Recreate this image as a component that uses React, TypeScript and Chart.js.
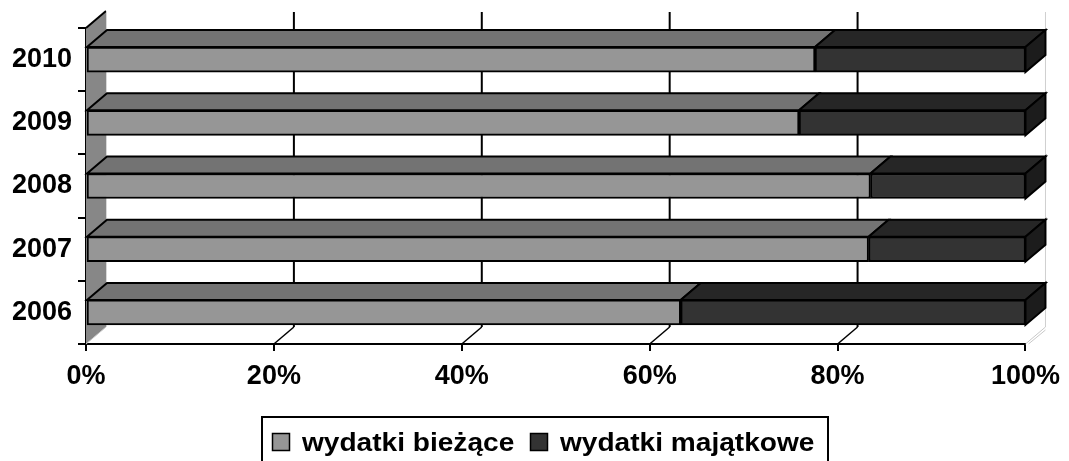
import React, { useEffect, useRef } from "react";
import { Chart, registerables } from "chart.js";

Chart.register(...registerables);

const years = ["2010", "2009", "2008", "2007", "2006"];
const biezace = [77.6, 75.9, 83.5, 83.3, 63.3];
const majatkowe = [22.4, 24.1, 16.5, 16.7, 36.7];
const seriesNames = ["wydatki bieżące", "wydatki majątkowe"];
const xTicks = [0, 20, 40, 60, 80, 100];

const FRONT = ["#969696", "#333333"];
const TOP = ["#737373", "#262626"];
const SIDE = "#1c1c1c";
const WALL = "#878787";
const DX = 20;
const DY = -17;
const FONT = "'Liberation Sans', Arial, sans-serif";

const depthPlugin = {
  id: "depth3d",
  beforeDatasetsDraw(chart: any) {
    const { ctx, chartArea, scales } = chart;
    const x = scales.x;
    const { left, top, bottom } = chartArea;
    ctx.save();
    ctx.beginPath();
    ctx.moveTo(left, top);
    ctx.lineTo(left + DX, top + DY);
    ctx.lineTo(left + DX, bottom + DY);
    ctx.lineTo(left, bottom);
    ctx.closePath();
    ctx.fillStyle = WALL;
    ctx.fill();
    ctx.strokeStyle = "#000";
    ctx.lineWidth = 2;
    ctx.beginPath();
    ctx.moveTo(left, top);
    ctx.lineTo(left + DX, top + DY);
    ctx.stroke();
    ctx.strokeStyle = "#d8d8d8";
    ctx.lineWidth = 1;
    ctx.beginPath();
    ctx.moveTo(left + DX + 0.5, top + DY);
    ctx.lineTo(left + DX + 0.5, bottom + DY);
    ctx.stroke();
    x.ticks.forEach((t: any) => {
      const px = x.getPixelForValue(t.value);
      const last = t.value === x.max;
      const first = t.value === x.min;
      if (!first) {
        ctx.strokeStyle = last ? "#cfcfcf" : "#000";
        ctx.lineWidth = last ? 1 : 2;
        ctx.beginPath();
        ctx.moveTo(px + DX, top + DY + 1);
        ctx.lineTo(px + DX, bottom + DY);
        ctx.stroke();
      }
      ctx.strokeStyle = first || last ? "#c8c8c8" : "#000";
      ctx.lineWidth = first || last ? 1 : 1.5;
      ctx.beginPath();
      ctx.moveTo(px, bottom);
      ctx.lineTo(px + DX, bottom + DY);
      ctx.stroke();
      if (last) {
        ctx.beginPath();
        ctx.moveTo(px + 3, bottom);
        ctx.lineTo(px + DX, bottom + DY + 3);
        ctx.stroke();
      }
    });
    ctx.restore();
  },
  afterDatasetsDraw(chart: any) {
    const { ctx } = chart;
    const n = chart.data.datasets.length;
    ctx.save();
    ctx.strokeStyle = "#000";
    ctx.lineWidth = 2;
    chart.data.datasets.forEach((_ds: any, i: number) => {
      const meta = chart.getDatasetMeta(i);
      meta.data.forEach((el: any) => {
        const { x, y, base, height } = el.getProps(["x", "y", "base", "height"], true);
        const x0 = Math.min(x, base);
        const x1 = Math.max(x, base);
        const yt = y - height / 2;
        const yb = y + height / 2;
        ctx.beginPath();
        ctx.moveTo(x0, yt);
        ctx.lineTo(x0 + DX, yt + DY);
        ctx.lineTo(x1 + DX, yt + DY);
        ctx.lineTo(x1, yt);
        ctx.closePath();
        ctx.fillStyle = TOP[i];
        ctx.fill();
        ctx.stroke();
        if (i === n - 1) {
          ctx.beginPath();
          ctx.moveTo(x1, yt);
          ctx.lineTo(x1 + DX, yt + DY);
          ctx.lineTo(x1 + DX, yb + DY);
          ctx.lineTo(x1, yb);
          ctx.closePath();
          ctx.fillStyle = SIDE;
          ctx.fill();
          ctx.stroke();
        }
      });
    });
    ctx.restore();
  },
  afterDraw(chart: any) {
    const { ctx } = chart;
    ctx.save();
    ctx.strokeStyle = "#000";
    ctx.lineWidth = 2;
    ctx.strokeRect(262, 417, 566, 60);
    const items = [
      { sq: 272, tx: 302 },
      { sq: 530, tx: 560 },
    ];
    ctx.font = `bold 26px ${FONT}`;
    ctx.textBaseline = "alphabetic";
    chart.data.datasets.forEach((ds: any, i: number) => {
      const it = items[i];
      ctx.fillStyle = FRONT[i];
      ctx.fillRect(it.sq, 433, 18, 18);
      ctx.lineWidth = 1.5;
      ctx.strokeRect(it.sq + 0.5, 433.5, 17, 17);
      ctx.save();
      ctx.translate(it.tx, 451);
      ctx.scale(1.08, 1);
      ctx.fillStyle = "#000";
      ctx.fillText(ds.label, 0, 0);
      ctx.restore();
    });
    ctx.restore();
  },
};

export default function App() {
  const ref = useRef<HTMLCanvasElement | null>(null);
  useEffect(() => {
    document.body.style.margin = "0";
    if (!ref.current) return;
    const chart = new Chart(ref.current, {
      type: "bar",
      data: {
        labels: years,
        datasets: [
          {
            label: seriesNames[0],
            data: biezace,
            backgroundColor: FRONT[0],
            borderColor: "#000",
            borderWidth: 2,
            borderSkipped: false,
            barThickness: 25,
          },
          {
            label: seriesNames[1],
            data: majatkowe,
            backgroundColor: FRONT[1],
            borderColor: "#000",
            borderWidth: 2,
            borderSkipped: false,
            barThickness: 25,
          },
        ],
      },
      options: {
        indexAxis: "y",
        responsive: false,
        animation: false,
        layout: { padding: { top: 28, left: 0, right: 41, bottom: 0 } },
        plugins: { legend: { display: false }, tooltip: { enabled: false } },
        scales: {
          x: {
            stacked: true,
            min: 0,
            max: 100,
            afterBuildTicks(scale: any) {
              scale.ticks = xTicks.map((v) => ({ value: v }));
            },
            afterFit(scale: any) {
              scale.height = 117;
            },
            grid: {
              drawOnChartArea: false,
              drawTicks: true,
              tickLength: 7,
              color: "#000",
              lineWidth: 2,
            },
            border: { display: true, color: "#000", width: 2 },
            ticks: {
              padding: 9,
              color: "#000",
              font: { family: FONT, weight: "bold", size: 27 },
              callback: (v: any) => `${v}%`,
            },
          },
          y: {
            stacked: true,
            afterFit(scale: any) {
              scale.width = 86;
            },
            grid: {
              offset: true,
              drawOnChartArea: false,
              drawTicks: true,
              tickLength: 8,
              color: "#000",
              lineWidth: 2,
            },
            border: { display: true, color: "#000", width: 2 },
            ticks: {
              padding: 6,
              color: "#000",
              font: { family: FONT, weight: "bold", size: 27 },
            },
          },
        },
      },
      plugins: [depthPlugin],
    } as any);
    return () => chart.destroy();
  }, []);
  return (
    <div style={{ width: 1069, height: 461 }}>
      <canvas ref={ref} width={1069} height={461} />
    </div>
  );
}
